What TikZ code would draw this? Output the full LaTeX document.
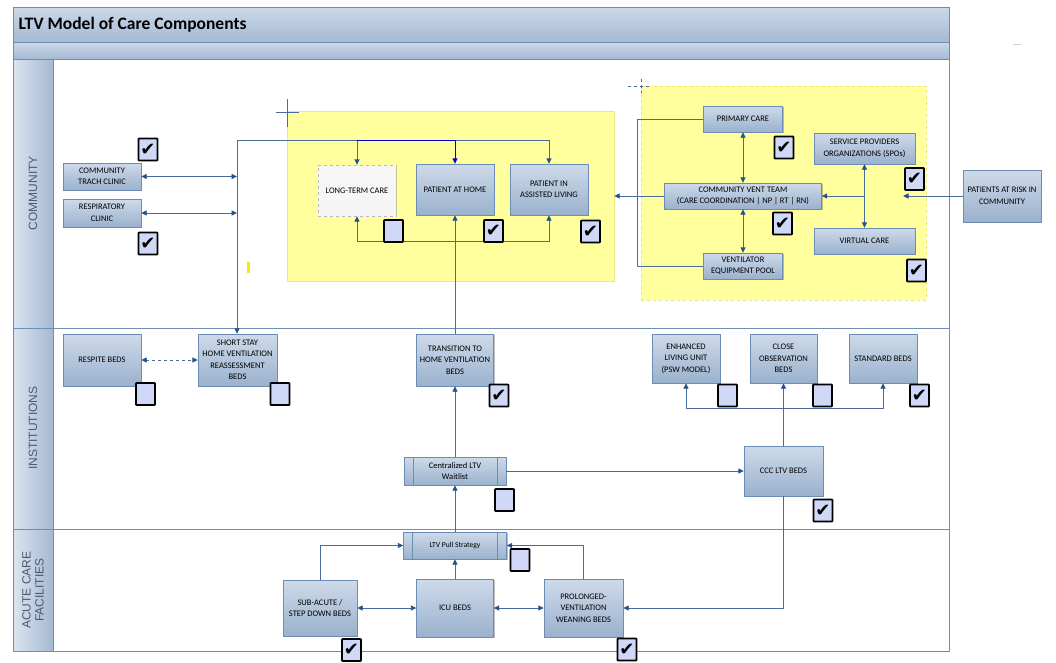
\documentclass[tikz,border=0pt]{standalone}
\usepackage{fontspec}
\setmainfont{Carlito}
\newfontfamily\lanefont{Liberation Sans}
\newfontfamily\tickfont{DejaVu Sans}
\usetikzlibrary{arrows.meta,shadows}
\definecolor{barTop}{HTML}{CCD9E8}
\definecolor{barBot}{HTML}{A4B9D3}
\definecolor{frameC}{HTML}{6F8EB6}
\definecolor{boxTop}{HTML}{CEDAEA}
\definecolor{boxBot}{HTML}{9AB1CD}
\definecolor{boxEdge}{HTML}{6C8CB4}
\definecolor{lineC}{HTML}{4A6C9C}
\definecolor{tipC}{HTML}{24528A}
\definecolor{chkFill}{HTML}{CFD9F7}
\definecolor{hiYel}{HTML}{FFFF9E}
\definecolor{laneTxt}{HTML}{4B5A70}
\begin{document}
\begin{tikzpicture}[x=1pt, y=-1pt, line join=round,
  >={Triangle[width=5pt,length=5.5pt,color=tipC]},
  box/.style={draw=boxEdge, top color=boxTop, bottom color=boxBot, align=center, inner sep=1pt,
    text=black, font=\fontsize{8.5}{11.5}\selectfont,
    drop shadow={shadow xshift=1.2pt, shadow yshift=-1.2pt, fill=black, opacity=.25}},
  ghost/.style={box, draw=gray!55, dashed, top color=gray!6, bottom color=gray!8},
  proc/.style={box, path picture={
    \draw[boxEdge] ([xshift=9pt]path picture bounding box.north west) -- ([xshift=9pt]path picture bounding box.south west);
    \draw[boxEdge] ([xshift=-9pt]path picture bounding box.north east) -- ([xshift=-9pt]path picture bounding box.south east);}},
  sz/.style 2 args={minimum width=#1pt, minimum height=#2pt},
  chk/.style={draw=black, line width=1.8pt, fill=chkFill, minimum width=19pt, minimum height=22pt,
    inner sep=0pt, rounded corners=0.6pt, font=\tickfont\fontsize{18}{18}\selectfont},
  link/.style={draw=lineC, line width=0.9pt},
  lane/.style={rotate=90, align=center, text=laneTxt, font=\lanefont\fontsize{12}{13}\selectfont},
  group/.style={fill=hiYel, inner sep=0pt}]
\useasboundingbox (0,0) rectangle (1056,662);

% frame, bars and lanes
\draw[frameC, top color=barTop, bottom color=barBot] (13,7) rectangle (949,42);
\draw[frameC, top color=barTop, bottom color=barBot] (13,42) rectangle (949,59);
\draw[frameC, left color=barTop!70!white, right color=barBot] (13,59) rectangle (53,651);
\draw[frameC, line width=0.8pt] (13,7) rectangle (949,651);
\draw[frameC, line width=0.8pt] (13,328) -- (949,328) (13,529) -- (949,529);
\node[anchor=west, font=\bfseries\fontsize{17.5}{17.5}\selectfont] (title) at (15,25) {LTV Model of Care Components};
\node[lane] (lCom) at (33,193) {COMMUNITY};
\node[lane] (lIns) at (33,428) {INSTITUTIONS};
\node[lane] (lAcu) at (33,590) {ACUTE CARE\\FACILITIES};
\draw[gray!35, line width=1pt] (1013,44) -- (1021,44);

% yellow groups
\node[group, draw=yellow!70!gray!60, sz={327}{170}] (grp1) at (450.5,196) {};
\node[group, draw=yellow!75!gray!70, dashed, sz={285}{214}] (grp2) at (783.5,193) {};
\draw[lineC] (276,112) -- (299,112) (287,99) -- (287,127);
\draw[lineC, dashed] (628,86) -- (650,86) (641,79) -- (641,93);
\fill[yellow!90!orange] (247,262) rectangle (250,273);

% community
\node[box, sz={78}{27}] (trach) at (102,176.5) {COMMUNITY\\TRACH CLINIC};
\node[box, sz={78}{28}] (resp) at (102,213) {RESPIRATORY\\CLINIC};
\node[ghost, sz={78}{51}] (ltc) at (357,190.5) {LONG-TERM CARE};
\node[box, sz={78}{51}] (pah) at (455,189.5) {PATIENT AT HOME};
\node[box, sz={78}{51}] (pial) at (549,189.5) {PATIENT IN\\ASSISTED LIVING};
\node[box, sz={79}{26}] (pc) at (743,119) {PRIMARY CARE};
\node[box, sz={101}{31}] (spo) at (864.5,148.5) {SERVICE PROVIDERS\\ORGANIZATIONS (SPOs)};
\node[box, sz={157}{26}] (cvt) at (743,196) {COMMUNITY VENT TEAM\\(CARE COORDINATION | NP | RT | RN)};
\node[box, sz={101}{26}] (vc) at (864.5,241) {VIRTUAL CARE};
\node[box, sz={79}{26}] (vep) at (743,266) {VENTILATOR\\EQUIPMENT POOL};
\node[box, sz={78}{52}] (risk) at (1002,196) {PATIENTS AT RISK IN\\COMMUNITY};

% institutions
\node[box, sz={78}{52}] (respite) at (102,360) {RESPITE BEDS};
\node[box, sz={79}{52}] (ss) at (237.5,360) {SHORT STAY\\HOME VENTILATION\\REASSESSMENT\\BEDS};
\node[box, sz={77}{52}] (trans) at (455,360) {TRANSITION TO\\HOME VENTILATION\\BEDS};
\node[box, sz={68}{49}] (enh) at (686,358.5) {ENHANCED\\LIVING UNIT\\(PSW MODEL)};
\node[box, sz={67}{49}] (cob) at (783.5,358.5) {CLOSE\\OBSERVATION\\BEDS};
\node[box, sz={68}{49}] (std) at (883,358.5) {STANDARD BEDS};
\node[proc, sz={102}{28}] (wait) at (455,471) {Centralized LTV\\Waitlist};
\node[box, sz={79}{50}] (ccc) at (783.5,471) {CCC LTV BEDS};

% acute care
\node[proc, sz={103}{27}, font=\fontsize{7.6}{10}\selectfont] (pull) at (455,545.5) {LTV Pull Strategy};
\node[box, sz={74}{56}] (sub) at (320,608) {SUB-ACUTE /\\STEP DOWN BEDS};
\node[box, sz={77}{58}] (icu) at (455,608) {ICU BEDS};
\node[box, sz={79}{58}] (pro) at (583.5,608) {PROLONGED-\\VENTILATION\\WEANING BEDS};

% connectors
\coordinate (hub) at (237,140);
\coordinate (riskIn) at (903,196);
\draw[link,<->] (trach.east) -- (trach.east -| hub);
\draw[link,<->] (resp.east) -- (resp.east -| hub);
\draw[link,->] (hub) -- (hub |- ss.north);
\draw[link] (hub) -- (pial.north |- hub);
\draw[link,->] (ltc.north |- hub) -- (ltc.north);
\draw[line width=0.9pt, draw=blue!85!black, -{Triangle[width=5pt,length=5.5pt,color=blue!85!black]}]
  (ltc.north |- hub) -- (pah.north |- hub) -- (pah.north);
\draw[link,->] (pial.north |- hub) -- (pial.north);
\draw[link,<->] (ltc.south) -- ++(0,25) -| (pial.south);
\draw[link,->] (trans.north) -- (pah.south);
\draw[link,<->] (pc.south) -- (cvt.north);
\draw[link,<->] (cvt.south) -- (vep.north);
\draw[link,<->] (spo.south) -- (vc.north);
\draw[link,->] (spo.south |- cvt.east) -- (cvt.east);
\draw[link] (pc.west) -- ++(-66,0) |- (vep.west);
\draw[link,->] (cvt.west) -- (grp1.east);
\draw[link,->] (risk.west) -- (riskIn);
\draw[link,<->,dashed] (respite.east) -- (ss.west);
\draw[link,->] (wait.north) -- (trans.south);
\draw[link,->] (wait.east) -- (ccc.west);
\draw[link,->] (ccc.north) -- (cob.south);
\draw[link,<->] (enh.south) -- ++(0,25) -| (std.south);
\draw[link,->] (pull.north) -- (wait.south);
\draw[link,->] (icu.north) -- (pull.south);
\draw[link,->] (sub.north) |- (pull.west);
\draw[link,->] (pro.north) |- (pull.east);
\draw[link,<->] (sub.east) -- (icu.west);
\draw[link,<->] (icu.east) -- (pro.west);
\draw[link,->] (ccc.south) |- (pro.east);

% check boxes
\foreach \nm/\cx/\cy/\tk in {kTrach/148/149.5/1, kResp/148/243.5/1, kLtc/393.5/231/0, kPah/493.5/231/1,
    kPial/590.5/231.5/1, kPc/784/147.5/1, kSpo/914.5/179/1, kCvt/782.5/223.5/1, kVc/916.5/270.5/1,
    kRespite/145.5/394/0, kSs/280/394/0, kTrans/499/395.5/1, kEnh/727.5/395.5/0, kCob/822.5/395.5/0,
    kStd/919.5/395.5/1, kWait/504.5/500/0, kCcc/823/510.5/1, kPull/520/560/0, kSub/351.5/650/1, kPro/627/649.5/1}
  \node[chk] (\nm) at (\cx,\cy) {\ifnum\tk=1 ✔\fi};
\end{tikzpicture}
\end{document}
